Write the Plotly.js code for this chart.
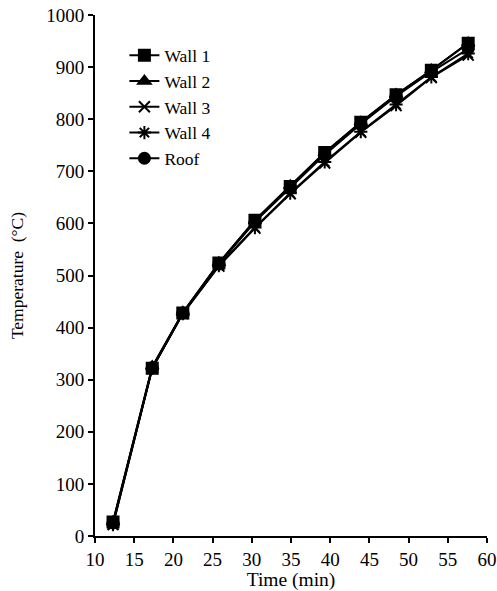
<!DOCTYPE html>
<html>
<head>
<meta charset="utf-8">
<script src="https://cdn.plot.ly/plotly-3.0.1.min.js"></script>
<style>html,body{margin:0;padding:0;background:#fff;}#chart{width:497px;height:591px;}</style>
</head>
<body>
<div id="chart"></div>
<script>
const time = [12.3, 17.3, 21.2, 25.8, 30.4, 34.9, 39.3, 43.9, 48.4, 52.9, 57.6];
const wall1 = [27, 322, 428, 524, 606, 671, 736, 794, 847, 894, 946];
const wall2 = [27, 325, 429, 524, 605, 672, 735, 794, 847, 894, 946];
const wall3 = [22, 322, 427, 518, 591, 657, 716, 775, 826, 880, 923];
const wall4 = [22, 322, 427, 519, 592, 658, 718, 776, 828, 881, 926];
const roof  = [25, 323, 428, 522, 603, 669, 732, 791, 844, 891, 935];
const names = ["Wall 1", "Wall 2", "Wall 3", "Wall 4", "Roof"];
const series = [wall1, wall2, wall3, wall4, roof];
const symbols = ["square", "triangle-up", "x-thin-open", "asterisk-open", "circle"];

const traces = series.map((s, i) => ({
  x: time, y: s, name: names[i], type: "scatter", mode: "lines+markers",
  line: {color: "#000", width: 2},
  marker: {symbol: symbols[i], size: 11, color: "#000", line: {color: "#000", width: 2}}
}));

const fam = "'Liberation Serif', 'Times New Roman', serif";
const layout = {
  width: 497, height: 591,
  margin: {l: 95, r: 10, t: 15, b: 55},
  paper_bgcolor: "#fff", plot_bgcolor: "#fff",
  font: {family: fam, size: 18, color: "#000"},
  showlegend: true,
  legend: {x: 0.075, y: 0.957, xanchor: "left", yanchor: "top", font: {family: fam, size: 17.5, color: "#000"}, bgcolor: "rgba(0,0,0,0)", tracegroupgap: 0},
  xaxis: {
    range: [10, 60], tickvals: [10,15,20,25,30,35,40,45,50,55,60],
    showgrid: false, zeroline: false, showline: true, linecolor: "#000", linewidth: 2,
    ticks: "outside", ticklen: 5, tickwidth: 2, tickcolor: "#000",
    tickfont: {family: fam, size: 19, color: "#000"},
    title: {text: "Time (min)", font: {family: fam, size: 19.5, color: "#000"}, standoff: 1}
  },
  yaxis: {
    range: [0, 1000], tickvals: [0,100,200,300,400,500,600,700,800,900,1000],
    showgrid: false, zeroline: false, showline: true, linecolor: "#000", linewidth: 2,
    ticks: "outside", ticklen: 5, tickwidth: 2, tickcolor: "#000",
    tickfont: {family: fam, size: 19, color: "#000"},
    title: {text: "Temperature  (°C)", font: {family: fam, size: 17.5, color: "#000"}, standoff: 18}
  }
};
Plotly.newPlot("chart", traces, layout, {displayModeBar: false, staticPlot: true});
</script>
</body>
</html>
